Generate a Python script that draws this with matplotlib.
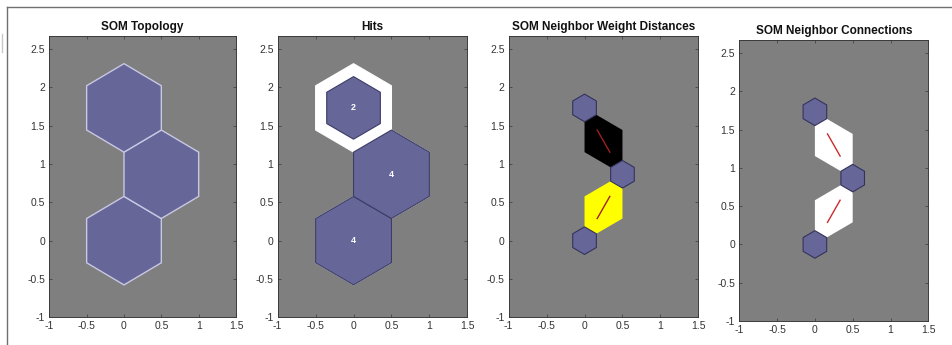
import numpy as np
import matplotlib
matplotlib.use("Agg")
import matplotlib.pyplot as plt
from matplotlib.patches import Polygon
from matplotlib.colors import LinearSegmentedColormap
from matplotlib.lines import Line2D

plt.rcParams['font.family'] = ['Liberation Sans', 'DejaVu Sans']

# ---- data ----
pos_x = [0.0, 0.5, 0.0]
pos_y = [0.0, 0.866, 1.732]
hits = [4, 4, 2]
neighbor_pairs = [(0, 1), (1, 2)]
neighbor_dist = [0.0, 1.0]          # normalised weight distances
titles = ["SOM Topology", "Hits", "SOM Neighbor Weight Distances",
          "SOM Neighbor Connections"]
xticks = [-1, -0.5, 0, 0.5, 1, 1.5]
yticks = [-1, -0.5, 0, 0.5, 1, 1.5, 2, 2.5]
xtick_labels = ["-1", "-0.5", "0", "0.5", "1", "1.5"]
ytick_labels = ["-1", "-0.5", "0", "0.5", "1", "1.5", "2", "2.5"]

# ---- style ----
W, H = 953, 345
BG = "#7f7f7f"
NEURON = "#666699"
R_FULL = 1 / np.sqrt(3)
R_SMALL = 0.18
Z = np.sqrt(0.75) / 3
nd_cmap = LinearSegmentedColormap.from_list("nd", ["#ffff00", "#ff0000", "#000000"])

fig = plt.figure(figsize=(W / 100, H / 100), dpi=100)
fig.patch.set_facecolor("white")

# axes rectangles in pixels (left, top, right, bottom)
rects = [(49.3, 36, 236, 317.3), (277.7, 36, 467.3, 317.3),
         (508.7, 36, 698.3, 317.3), (739.3, 40, 928.3, 321)]


def hexagon(cx, cy, r):
    ang = np.deg2rad([90, 30, -30, -90, -150, 150])
    return np.column_stack([cx + r * np.cos(ang), cy + r * np.sin(ang)])


def diamond(i, j):
    a = np.array([pos_x[i], pos_y[i]])
    b = np.array([pos_x[j], pos_y[j]])
    d = b - a
    ang = np.arctan2(d[1], d[0])
    ex = np.array([-1, 0, 1, 0]) * 0.5 * np.linalg.norm(d)
    ey = np.array([0, 1, 0, -1]) * Z
    c, s = np.cos(ang), np.sin(ang)
    m = (a + b) / 2
    return np.column_stack([m[0] + ex * c - ey * s, m[1] + ex * s + ey * c])


axes = []
for (l, t, r, b), title in zip(rects, titles):
    ax = fig.add_axes([l / W, (H - b) / H, (r - l) / W, (b - t) / H])
    ax.set_facecolor(BG)
    ax.set_xlim(-1, 1.5)
    ax.set_ylim(-1, 2.67)
    ax.set_xticks(xticks)
    ax.set_xticklabels(xtick_labels)
    ax.set_yticks(yticks)
    ax.set_yticklabels(ytick_labels)
    ax.tick_params(direction="in", length=2.5, width=0.6, top=True, right=True,
                   labelsize=7.5, labelcolor="#333333", color="#444444", pad=3)
    for sp in ax.spines.values():
        sp.set_color("#3a3a3a")
        sp.set_linewidth(0.7)
    ax.set_title(title, fontsize=8.5, fontweight="bold", color="#111111", pad=4)
    axes.append(ax)

# 1. topology
ax = axes[0]
for x, y in zip(pos_x, pos_y):
    ax.add_patch(Polygon(hexagon(x, y, R_FULL), closed=True, facecolor=NEURON,
                         edgecolor="#c8c8e4", linewidth=1.0))

# 2. hits
ax = axes[1]
hmax = max(hits)
for x, y, h in zip(pos_x, pos_y, hits):
    ax.add_patch(Polygon(hexagon(x, y, R_FULL), closed=True, facecolor="white",
                         edgecolor="white", linewidth=0.8))
for x, y, h in zip(pos_x, pos_y, hits):
    rr = R_FULL * np.sqrt(h / hmax)
    ax.add_patch(Polygon(hexagon(x, y, rr), closed=True, facecolor=NEURON,
                         edgecolor="#3c3c66", linewidth=0.8))
    ax.text(x, y, str(h), ha="center", va="center", color="white",
            fontsize=6.5, fontweight="bold")

# 3 & 4. neighbor distances / connections
for k, ax in enumerate(axes[2:]):
    for (i, j), dist in zip(neighbor_pairs, neighbor_dist):
        fc = nd_cmap(dist) if k == 0 else "white"
        ax.add_patch(Polygon(diamond(i, j), closed=True, facecolor=fc,
                             edgecolor="none"))
        p1x = (2 * pos_x[i] + pos_x[j]) / 3
        p1y = (2 * pos_y[i] + pos_y[j]) / 3
        p2x = (pos_x[i] + 2 * pos_x[j]) / 3
        p2y = (pos_y[i] + 2 * pos_y[j]) / 3
        ax.plot([p1x, p2x], [p1y, p2y], color="#cc2a2a" if k == 1 else "#a02020",
                linewidth=1.0)
    for x, y in zip(pos_x, pos_y):
        ax.add_patch(Polygon(hexagon(x, y, R_SMALL), closed=True, facecolor=NEURON,
                             edgecolor="#33335c", linewidth=0.8))

# outer frame of the screenshot
fig.add_artist(Line2D([7 / W, 1], [1 - 7 / H, 1 - 7 / H], color="#707070", lw=1.0))
fig.add_artist(Line2D([7 / W, 7 / W], [0, 1 - 7 / H], color="#707070", lw=1.0))
fig.add_artist(Line2D([2 / W, 2 / W], [1 - 34 / H, 1 - 52 / H], color="#c8c8c8", lw=1.0))

fig.savefig("out.png", dpi=100, facecolor="white")
